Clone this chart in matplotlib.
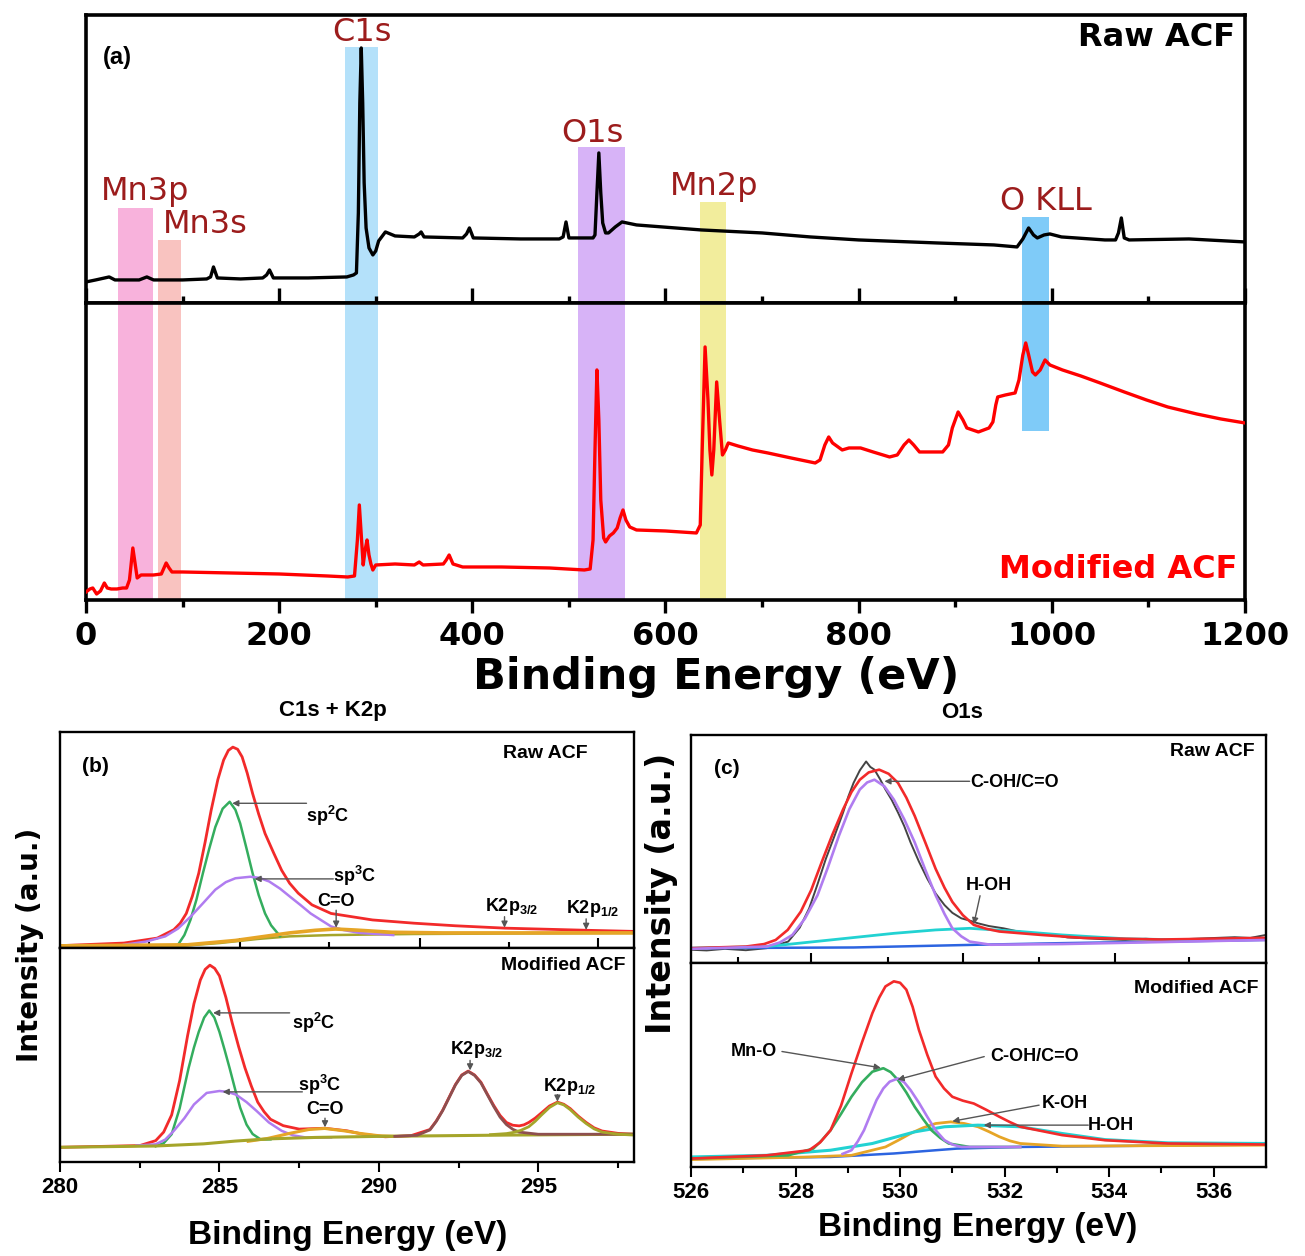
import matplotlib
matplotlib.use("Agg")
import matplotlib.pyplot as plt

plt.rcParams['font.family'] = ['Liberation Sans', 'DejaVu Sans']
plt.rcParams['mathtext.fontset'] = 'custom'
plt.rcParams['mathtext.rm'] = 'Liberation Sans:bold'
plt.rcParams['mathtext.bf'] = 'Liberation Sans:bold'
plt.rcParams['mathtext.it'] = 'Liberation Sans:bold'
plt.rcParams['mathtext.default'] = 'bf'

# ---------------- (a) survey spectra ----------------
raw_survey_eV = [0, 10, 24, 30, 55, 63, 70, 100, 125, 129,
                 132, 136, 160, 183, 187, 190, 194, 230, 270, 277,
                 280, 282, 283.5, 285, 286.5, 288, 290, 293, 297, 300,
                 303, 310, 320, 340, 345, 347, 350, 390, 394, 397,
                 401, 450, 490, 494, 497, 500, 520, 525, 527, 529,
                 531, 533, 535, 538, 541, 548, 555, 570, 637, 700,
                 750, 800, 881, 940, 964, 970, 976, 981, 985, 992,
                 998, 1010, 1055, 1066, 1069, 1072, 1075, 1080, 1142, 1200]
raw_survey_int = [21, 23, 26, 23, 23, 26, 23, 23, 24, 26,
                  36, 25, 24, 25, 28, 33, 25, 25, 26, 28,
                  30, 90, 200, 255, 200, 120, 75, 55, 48, 52,
                  62, 71, 67, 66, 69, 71, 66, 65, 69, 75,
                  65, 64, 64, 66, 81, 65, 65, 65, 68, 110,
                  150, 110, 80, 70, 70, 76, 81, 78, 73, 70,
                  66, 63, 60, 58, 56, 64, 75, 68, 65, 68,
                  69, 66, 63, 63, 70, 85, 65, 63, 64, 61]

mod_survey_eV = [0, 4, 7, 11, 15, 19, 22, 26, 32, 38,
                 42, 45, 48.5, 51, 53, 57, 70, 78, 83, 86,
                 89, 100, 150, 200, 250, 271, 278, 281, 283, 285,
                 287, 289, 291, 293, 295, 297, 300, 320, 340, 345,
                 349, 370, 373, 376, 380, 390, 430, 480, 516, 522,
                 525, 527, 529, 531, 533, 536, 538, 542, 546, 550,
                 553, 556, 559, 563, 570, 600, 632, 636, 638, 641,
                 644, 646, 648, 650, 653, 656, 659, 662, 665, 675,
                 690, 706, 730, 755, 760, 765, 769, 773, 783, 790,
                 802, 815, 832, 840, 847, 852, 857, 863, 887, 893,
                 897, 903, 908, 912, 924, 935, 939, 942, 944, 952,
                 962, 966, 970, 973, 976, 980, 983, 988, 993, 998,
                 1011, 1030, 1050, 1075, 1098, 1120, 1150, 1175, 1200]
mod_survey_int = [8, 11, 12, 6, 9, 17, 12, 11, 11, 12,
                  12, 20, 52, 35, 22, 25, 25, 26, 37, 32,
                  28, 28, 27, 26, 24, 23, 24, 60, 95, 65,
                  35, 50, 60, 45, 36, 30, 35, 36, 35, 38,
                  35, 36, 40, 45, 36, 33, 33, 32, 30, 31,
                  60, 150, 230, 180, 100, 62, 58, 64, 67, 72,
                  82, 90, 80, 73, 70, 69, 67, 75, 150, 253,
                  200, 150, 125, 150, 218, 180, 145, 150, 157, 154,
                  150, 147, 142, 137, 140, 155, 163, 157, 150, 152,
                  152, 148, 143, 145, 155, 160, 155, 148, 148, 155,
                  172, 188, 180, 172, 168, 172, 178, 195, 203, 205,
                  207, 220, 245, 257, 245, 228, 225, 230, 240, 235,
                  230, 224, 217, 208, 200, 193, 186, 181, 177]

band_names = ['Mn3p', 'Mn3s', 'C1s', 'O1s', 'Mn2p', 'O KLL']
band_lo = [33, 75, 268, 509, 636, 969]
band_hi = [69, 98, 302, 558, 663, 997]

# ---------------- (b) C1s + K2p ----------------
b_raw_env_eV = [280.0, 282.0, 283.05, 283.57, 283.77, 283.96, 284.15, 284.35, 284.55, 284.74,
                284.95, 285.13, 285.28, 285.42, 285.57, 285.71, 285.87, 286.04, 286.23, 286.43,
                286.7, 286.95, 287.2, 287.47, 287.9, 288.5, 289.8, 291.1, 292.4, 293.96,
                296.56, 298.0]
b_raw_env = [1.1, 2.3, 4.6, 8.5, 11.5, 16.0, 24.0, 34.6, 49.0, 63.8,
             78.0, 87.0, 91.5, 93.0, 92.0, 88.5, 81.0, 71.5, 62.0, 53.0,
             44.0, 36.0, 30.0, 25.4, 20.0, 16.0, 13.0, 11.5, 10.3, 9.2,
             8.2, 7.7]
b_raw_sp2_eV = [283.7, 283.9, 284.09, 284.28, 284.48, 284.68, 284.87, 285.1, 285.32, 285.5,
                285.65, 285.85, 286.04, 286.23, 286.43, 286.62, 286.9]
b_raw_sp2 = [1.5, 6.0, 13.0, 22.5, 34.6, 46.0, 56.0, 64.5, 67.7, 64.0,
             57.7, 46.0, 34.6, 24.5, 16.0, 10.5, 5.5]
b_raw_sp3_eV = [282.0, 282.7, 283.3, 283.7, 284.1, 284.5, 284.87, 285.2, 285.5, 285.97,
                286.25, 286.56, 286.9, 287.21, 287.55, 287.86, 288.2, 288.5, 288.9, 289.4,
                290.45]
b_raw_sp3 = [1.5, 3.0, 5.4, 9.0, 14.6, 21.0, 27.0, 30.5, 32.3, 33.0,
             32.5, 30.8, 27.5, 23.8, 19.8, 16.0, 12.8, 10.0, 8.3, 7.0,
             6.0]
b_raw_co_eV = [280.0, 284.0, 285.5, 287.2, 288.0, 288.64, 289.3, 290.4, 292.0, 298.0]
b_raw_co = [1.0, 1.5, 3.5, 7.0, 8.2, 8.8, 8.3, 7.3, 7.0, 7.0]
b_raw_bg_eV = [280.0, 283.9, 285.0, 286.2, 287.2, 288.5, 291.1, 298.0]
b_raw_bg = [1.0, 1.1, 2.3, 4.2, 5.4, 6.0, 6.5, 7.0]

b_mod_env_eV = [280.0, 282.5, 283.0, 283.25, 283.5, 283.75, 284.0, 284.2, 284.4, 284.55,
                284.7, 284.85, 285.0, 285.2, 285.4, 285.6, 285.8, 286.0, 286.2, 286.4,
                286.6, 287.0, 287.5, 288.3, 289.0, 289.5, 290.2, 291.0, 291.6, 291.8,
                292.0, 292.2, 292.4, 292.6, 292.8, 293.0, 293.2, 293.4, 293.6, 293.8,
                294.0, 294.2, 294.4, 294.55, 294.7, 294.9, 295.1, 295.35, 295.6, 295.8,
                296.0, 296.25, 296.5, 296.75, 297.0, 297.5, 298.0]
b_mod_env = [6.9, 7.7, 10.0, 14.0, 22.0, 38.0, 59.0, 74.0, 85.0, 90.0,
             92.0, 90.5, 87.0, 77.0, 65.0, 54.0, 44.0, 35.5, 28.0, 23.5,
             20.0, 17.0, 15.4, 15.8, 14.6, 13.0, 11.8, 12.3, 15.2, 19.2,
             24.2, 30.2, 36.2, 40.7, 42.5, 40.7, 37.3, 31.8, 26.5, 21.8,
             18.5, 17.2, 16.9, 17.4, 18.5, 20.5, 23.0, 26.2, 28.0, 27.0,
             25.0, 21.5, 18.5, 16.0, 14.5, 13.4, 13.0]
b_mod_sp2_eV = [283.0, 283.25, 283.5, 283.75, 284.03, 284.2, 284.35, 284.52, 284.68, 284.84,
                285.0, 285.16, 285.32, 285.5, 285.65, 285.85, 286.04, 286.3, 286.6]
b_mod_sp2 = [7.4, 8.8, 13.0, 25.0, 43.8, 53.5, 60.8, 67.5, 70.8, 67.5,
             60.8, 52.5, 43.8, 33.5, 25.4, 17.5, 13.1, 10.5, 10.6]
b_mod_sp3_eV = [282.4, 283.0, 283.3, 283.57, 283.9, 284.2, 284.6, 285.0, 285.25, 285.52,
                285.85, 286.17, 286.55, 286.95, 287.3, 287.7, 288.5]
b_mod_sp3 = [7.7, 8.3, 10.5, 14.6, 20.5, 26.9, 32.3, 33.2, 32.8, 31.5,
             28.0, 23.8, 18.5, 14.6, 12.5, 11.5, 11.5]
b_mod_co_eV = [285.9, 286.5, 287.2, 287.8, 288.3, 288.9, 289.4, 290.0, 290.5]
b_mod_co = [9.7, 11.0, 13.4, 15.2, 15.7, 14.6, 13.4, 12.3, 12.0]
b_mod_k32_eV = [290.5, 291.2, 291.6, 291.8, 292.0, 292.2, 292.4, 292.6, 292.8, 293.0,
                293.2, 293.4, 293.6, 293.8, 294.0, 294.2, 294.4, 295.0, 296.0, 298.0]
b_mod_k32 = [12.0, 12.5, 15.0, 19.0, 24.0, 30.0, 36.0, 40.5, 42.3, 40.5,
             37.0, 31.5, 26.0, 21.0, 17.5, 15.3, 14.0, 13.0, 13.0, 13.0]
b_mod_k12_eV = [293.5, 294.0, 294.2, 294.45, 294.7, 294.9, 295.1, 295.35, 295.6, 295.8,
                296.0, 296.25, 296.5, 296.75, 297.0, 297.5, 298.0]
b_mod_k12 = [12.8, 13.3, 13.8, 14.8, 16.5, 19.0, 22.0, 25.5, 27.7, 26.7,
             24.5, 21.0, 18.0, 15.5, 14.0, 13.0, 12.6]
b_mod_bg_eV = [280.0, 283.0, 284.5, 285.5, 286.5, 288.0, 290.0, 292.0, 294.0, 296.0, 298.0]
b_mod_bg = [6.9, 7.5, 8.5, 9.8, 10.8, 11.5, 12.0, 12.3, 12.6, 12.8, 13.0]

# ---------------- (c) O1s ----------------
c_raw_data_eV = [526.0, 526.3, 526.65, 527.05, 527.45, 527.86, 528.08, 528.26, 528.42, 528.58,
                 528.75, 528.91, 529.01, 529.11, 529.23, 529.35, 529.43, 529.51, 529.62, 529.72,
                 529.84, 529.96, 530.08, 530.2, 530.36, 530.52, 530.68, 530.85, 531.0, 531.17,
                 531.33, 531.49, 531.7, 531.98, 532.2, 532.46, 532.7, 532.95, 533.2, 533.51,
                 533.9, 534.32, 534.7, 535.13, 535.5, 535.94, 536.4, 536.7, 537.0]
c_raw_data = [5.8, 5.5, 6.2, 5.6, 6.5, 9.4, 15.5, 23.9, 34.5, 45.7,
              56.0, 66.0, 73.0, 79.0, 84.5, 88.4, 86.0, 84.8, 80.5, 76.1,
              71.5, 66.0, 60.0, 52.9, 44.5, 37.0, 30.5, 25.4, 22.0, 19.6,
              18.6, 17.4, 16.2, 15.2, 14.1, 13.0, 12.9, 12.3, 11.2, 10.9,
              10.4, 10.1, 10.6, 10.1, 10.5, 10.9, 11.3, 11.0, 12.3]
c_raw_env_eV = [526.0, 527.05, 527.4, 527.62, 527.85, 528.1, 528.3, 528.5, 528.7, 528.91,
                529.07, 529.23, 529.4, 529.6, 529.78, 529.96, 530.12, 530.28, 530.48, 530.68,
                530.85, 531.0, 531.2, 531.41, 531.65, 531.9, 532.7, 533.5, 535.0, 537.0]
c_raw_env = [6.5, 7.2, 8.3, 10.1, 14.5, 22.5, 32.0, 44.2, 56.0, 67.4,
             75.0, 80.4, 83.6, 84.8, 83.0, 79.0, 72.5, 64.5, 53.0, 41.3,
             33.0, 26.8, 21.0, 16.7, 15.0, 13.8, 12.3, 11.0, 10.3, 11.0]
c_raw_coh_eV = [526.0, 527.45, 527.7, 527.94, 528.18, 528.42, 528.62, 528.83, 529.03, 529.23,
                529.37, 529.51, 529.7, 529.88, 530.08, 530.28, 530.48, 530.68, 530.85, 531.0,
                531.17, 531.33, 531.73, 533.1, 537.0]
c_raw_coh = [6.2, 7.2, 9.0, 12.3, 19.5, 29.7, 42.0, 55.8, 67.5, 76.1,
             79.2, 80.4, 77.5, 71.7, 63.0, 52.9, 41.0, 29.7, 21.5, 15.2,
             11.7, 9.4, 8.0, 8.3, 10.1]
c_raw_hoh_eV = [526.0, 527.45, 528.67, 529.88, 530.68, 531.33, 532.3, 533.1, 534.32, 535.53, 537.0]
c_raw_hoh = [6.5, 7.2, 10.1, 13.0, 14.5, 15.2, 13.8, 12.3, 10.6, 10.1, 10.6]
c_raw_bg_eV = [526.0, 529.11, 531.49, 533.1, 537.0]
c_raw_bg = [6.5, 6.8, 8.0, 8.7, 10.1]

c_mod_env_eV = [526.0, 527.45, 528.26, 528.47, 528.67, 528.87, 529.07, 529.27, 529.47, 529.6,
                529.72, 529.88, 530.0, 530.12, 530.24, 530.36, 530.52, 530.68, 530.84, 531.0,
                531.2, 531.41, 531.65, 531.9, 532.1, 532.3, 533.1, 533.92, 535.13, 537.0]
c_mod_env = [4.1, 5.7, 8.2, 12.0, 18.0, 30.0, 45.9, 61.0, 75.4, 83.0,
             88.5, 91.0, 90.3, 86.9, 78.5, 67.2, 55.0, 44.3, 38.5, 34.4,
             32.5, 31.1, 28.0, 24.6, 22.0, 19.7, 15.6, 13.1, 11.5, 11.0]
c_mod_mno_eV = [526.0, 527.86, 528.34, 528.5, 528.67, 528.87, 529.07, 529.27, 529.47, 529.68,
                529.82, 529.96, 530.12, 530.28, 530.44, 530.6, 530.77, 530.93, 531.33, 532.3]
c_mod_mno = [4.1, 5.7, 9.0, 13.0, 18.0, 26.0, 34.4, 41.5, 46.7, 48.4,
             46.5, 42.6, 36.5, 29.5, 23.5, 18.0, 14.2, 11.5, 9.8, 9.8]
c_mod_coh_eV = [528.9, 529.07, 529.19, 529.31, 529.43, 529.55, 529.68, 529.8, 529.96, 530.08,
                530.2, 530.36, 530.52, 530.68, 530.85, 531.0, 531.17, 532.3]
c_mod_coh = [6.4, 8.2, 12.5, 18.0, 25.5, 32.8, 38.5, 41.8, 43.4, 41.5,
             37.7, 31.5, 24.6, 18.0, 13.1, 11.0, 9.8, 9.8]
c_mod_koh_eV = [526.0, 528.26, 529.07, 529.72, 529.96, 530.2, 530.44, 530.68, 530.97, 531.23,
                531.49, 531.7, 531.9, 532.1, 532.3, 533.1, 537.0]
c_mod_koh = [3.6, 4.9, 5.7, 9.8, 13.0, 16.4, 19.2, 21.3, 22.1, 21.3,
             19.7, 17.3, 14.8, 12.8, 11.5, 10.2, 10.7]
c_mod_hoh_eV = [526.0, 527.45, 528.67, 529.47, 530.28, 530.85, 531.49, 532.3, 533.1, 533.92, 535.13, 537.0]
c_mod_hoh = [4.9, 5.7, 8.2, 11.5, 17.2, 19.7, 20.5, 19.7, 16.4, 13.4, 11.8, 11.5]
c_mod_bg_eV = [526.0, 528.67, 529.88, 531.09, 532.3, 537.0]
c_mod_bg = [4.1, 4.9, 6.6, 9.0, 9.8, 11.0]

# colours
RED = '#f22a2a'
GREEN = '#34ad5e'
PURPLE = '#b07cf0'
ORANGE = '#e6a526'
CYAN = '#22d2d2'
BLUE = '#2c64e0'
BROWN = '#8e4f4f'
OLIVE = '#a5a52a'
LABEL_RED = '#9c1c1c'

fig = plt.figure(figsize=(13.05, 12.56), dpi=100)

# ---------- panel (a) ----------
ax_raw = fig.add_axes([0.0659, 0.7588, 0.8881, 0.2293])
ax_mod = fig.add_axes([0.0659, 0.5223, 0.8881, 0.2365])

band_colors = ['#f8b2dc', '#f9c3c0', '#b4e1fa', '#d7b3f7', '#f2ed9c', '#7fcbf8']
band_top = [0.33, 0.22, 0.89, 0.54, 0.35, 0.30]   # fraction of raw panel height
band_mod = [(0, 1), (0, 1), (0, 1), (0, 1), (0, 1), (0.57, 1)]
band_lbl_xy = [(61, 111), (124, 78), (286, 270), (524, 169), (650, 116), (994, 101)]

for i, name in enumerate(band_names):
    ax_raw.axvspan(band_lo[i], band_hi[i], ymin=0, ymax=band_top[i], color=band_colors[i], lw=0, zorder=0)
    ax_mod.axvspan(band_lo[i], band_hi[i], ymin=band_mod[i][0], ymax=band_mod[i][1],
                   color=band_colors[i], lw=0, zorder=0)
    ax_raw.text(band_lbl_xy[i][0], band_lbl_xy[i][1], name, color=LABEL_RED, fontsize=23,
                family='DejaVu Sans', ha='center', va='center')

ax_raw.plot(raw_survey_eV, raw_survey_int, color='black', lw=2.4, zorder=3)
ax_mod.plot(mod_survey_eV, mod_survey_int, color='red', lw=2.4, zorder=3)

ax_raw.set_ylim(0, 288)
ax_mod.set_ylim(0, 297)
for ax in (ax_raw, ax_mod):
    ax.set_xlim(0, 1200)
    ax.set_yticks([])
    ax.set_xticks(range(0, 1201, 200))
    ax.set_xticks(range(100, 1200, 200), minor=True)
    for s in ax.spines.values():
        s.set_linewidth(2.6)
ax_raw.tick_params(axis='x', which='major', direction='in', length=11, width=2.4, labelbottom=False)
ax_raw.tick_params(axis='x', which='minor', direction='in', length=5, width=2.4)
ax_mod.tick_params(axis='x', which='major', direction='out', length=9, width=2.4, labelsize=23, pad=6)
ax_mod.tick_params(axis='x', which='minor', direction='out', length=5, width=2.4)
for lab in ax_mod.get_xticklabels():
    lab.set_family('DejaVu Sans')
    lab.set_fontweight('bold')

ax_raw.text(33, 245, '(a)', fontsize=17, fontweight='bold', ha='center', va='center')
ax_raw.text(1190, 265, 'Raw ACF', fontsize=23, fontweight='bold', family='DejaVu Sans',
            ha='right', va='center')
ax_mod.text(1192, 30, 'Modified ACF', fontsize=23, fontweight='bold', family='DejaVu Sans',
            color='red', ha='right', va='center')
fig.text(0.549, 0.461, 'Binding Energy (eV)', fontsize=31, fontweight='bold',
         family='DejaVu Sans', ha='center', va='center')


def arrow(ax, tail, head):
    ax.annotate('', xy=head, xytext=tail,
                arrowprops=dict(arrowstyle='-|>', color='#555555', lw=1.0,
                                mutation_scale=9, shrinkA=0, shrinkB=0))


def style(ax, xlim, major, minor, direction, labels):
    ax.set_xlim(*xlim)
    ax.set_ylim(0, 100)
    ax.set_yticks([])
    ax.set_xticks(major)
    ax.set_xticks(minor, minor=True)
    ax.tick_params(axis='x', which='major', direction=direction, length=7, width=1.5,
                   labelbottom=labels, labelsize=16, pad=4)
    ax.tick_params(axis='x', which='minor', direction=direction, length=4, width=1.5)
    for s in ax.spines.values():
        s.set_linewidth(1.7)
    if labels:
        for lab in ax.get_xticklabels():
            lab.set_fontweight('bold')


LBL = dict(fontsize=13, fontweight='bold')

# ---------- panel (b) ----------
bu = fig.add_axes([0.046, 0.2452, 0.4398, 0.172])
bl = fig.add_axes([0.046, 0.0748, 0.4398, 0.1704])

bu.plot(b_raw_bg_eV, b_raw_bg, color=OLIVE, lw=1.8)
bu.plot(b_raw_env_eV, b_raw_env, color=RED, lw=2.0)
bu.plot(b_raw_sp2_eV, b_raw_sp2, color=GREEN, lw=1.8)
bu.plot(b_raw_sp3_eV, b_raw_sp3, color=PURPLE, lw=1.8)
bu.plot(b_raw_co_eV, b_raw_co, color=ORANGE, lw=2.6)
style(bu, (280, 298), [285.65, 291.3, 296.88], [282.79, 288.44, 294.09], 'in', False)

arrow(bu, (287.73, 67), (285.4, 67))
bu.text(287.7, 61, 'sp$^2$C', ha='left', va='center', **LBL)
arrow(bu, (288.57, 32), (286.1, 32))
bu.text(288.55, 33.5, 'sp$^3$C', ha='left', va='center', **LBL)
arrow(bu, (288.66, 17.5), (288.66, 9.4))
bu.text(288.66, 21.5, 'C=O', ha='center', va='center', **LBL)
arrow(bu, (293.94, 14.5), (293.94, 9.4))
bu.text(294.16, 19.0, 'K2p$_{3/2}$', ha='center', va='center', **LBL)
arrow(bu, (296.5, 13.5), (296.5, 8.4))
bu.text(296.69, 18.2, 'K2p$_{1/2}$', ha='center', va='center', **LBL)
bu.text(296.56, 90, 'Raw ACF', ha='right', va='center', fontsize=14, fontweight='bold')
bu.text(281.1, 84, '(b)', ha='center', va='center', fontsize=15, fontweight='bold')

bl.plot(b_mod_env_eV, b_mod_env, color=RED, lw=2.0)
bl.plot(b_mod_sp2_eV, b_mod_sp2, color=GREEN, lw=1.8)
bl.plot(b_mod_sp3_eV, b_mod_sp3, color=PURPLE, lw=1.8)
bl.plot(b_mod_co_eV, b_mod_co, color=ORANGE, lw=2.2)
bl.plot(b_mod_bg_eV, b_mod_bg, color=OLIVE, lw=2.2)
bl.plot(b_mod_k32_eV, b_mod_k32, color=BROWN, lw=2.0)
bl.plot(b_mod_k12_eV, b_mod_k12, color=OLIVE, lw=2.0)
style(bl, (280, 298), [280, 285, 290, 295], [282.5, 287.5, 292.5, 297.5], 'out', True)

arrow(bl, (287.2, 69.7), (284.8, 69.7))
bl.text(287.27, 65, 'sp$^2$C', ha='left', va='center', **LBL)
arrow(bl, (287.6, 32.8), (285.1, 32.8))
bl.text(287.45, 36, 'sp$^3$C', ha='left', va='center', **LBL)
arrow(bl, (288.31, 20.5), (288.31, 16.2))
bl.text(288.31, 24.5, 'C=O', ha='center', va='center', **LBL)
arrow(bl, (292.86, 47.5), (292.86, 42.8))
bl.text(293.05, 52.5, 'K2p$_{3/2}$', ha='center', va='center', **LBL)
arrow(bl, (295.6, 31.5), (295.6, 28.2))
bl.text(295.97, 35.5, 'K2p$_{1/2}$', ha='center', va='center', **LBL)
bl.text(297.73, 92, 'Modified ACF', ha='right', va='center', fontsize=14, fontweight='bold')

fig.text(0.255, 0.434, 'C1s + K2p', fontsize=16, fontweight='bold', ha='center', va='center')
fig.text(0.266, 0.0167, 'Binding Energy (eV)', fontsize=24, fontweight='bold', ha='center', va='center')
fig.text(0.023, 0.2476, 'Intensity (a.u.)', fontsize=20, fontweight='bold', family='DejaVu Sans',
         rotation=90, ha='center', va='center')

# ---------- panel (c) ----------
cu = fig.add_axes([0.5295, 0.2333, 0.4406, 0.1815])
cl = fig.add_axes([0.5295, 0.0709, 0.4406, 0.1624])

cu.plot(c_raw_data_eV, c_raw_data, color='#444444', lw=1.4)
cu.plot(c_raw_bg_eV, c_raw_bg, color=BLUE, lw=1.8)
cu.plot(c_raw_hoh_eV, c_raw_hoh, color=CYAN, lw=2.0)
cu.plot(c_raw_env_eV, c_raw_env, color=RED, lw=1.9)
cu.plot(c_raw_coh_eV, c_raw_coh, color=PURPLE, lw=1.9)
style(cu, (526, 537), [528.3, 531.21, 534.12], [526.89, 529.76, 532.66, 535.53], 'in', False)

arrow(cu, (531.33, 79.7), (529.7, 79.7))
cu.text(531.35, 79.0, 'C-OH/C=O', ha='left', va='center', **LBL)
arrow(cu, (531.53, 29.5), (531.41, 17.0))
cu.text(531.7, 34, 'H-OH', ha='center', va='center', **LBL)
cu.text(536.78, 92.8, 'Raw ACF', ha='right', va='center', fontsize=14, fontweight='bold')
cu.text(526.69, 85.5, '(c)', ha='center', va='center', fontsize=15, fontweight='bold')

cl.plot(c_mod_bg_eV, c_mod_bg, color=BLUE, lw=1.8)
cl.plot(c_mod_koh_eV, c_mod_koh, color=ORANGE, lw=2.0)
cl.plot(c_mod_hoh_eV, c_mod_hoh, color=CYAN, lw=2.2)
cl.plot(c_mod_mno_eV, c_mod_mno, color=GREEN, lw=1.9)
cl.plot(c_mod_coh_eV, c_mod_coh, color=PURPLE, lw=1.9)
cl.plot(c_mod_env_eV, c_mod_env, color=RED, lw=1.9)
style(cl, (526, 537), list(range(526, 537, 2)), list(range(527, 537, 2)), 'out', True)

arrow(cl, (527.74, 56.6), (529.63, 48.6))
cl.text(527.21, 56.6, 'Mn-O', ha='center', va='center', **LBL)
arrow(cl, (531.61, 54.1), (529.95, 42.8))
cl.text(532.58, 54.1, 'C-OH/C=O', ha='center', va='center', **LBL)
arrow(cl, (532.66, 30.3), (531.0, 22.4))
cl.text(533.15, 31.1, 'K-OH', ha='center', va='center', **LBL)
arrow(cl, (533.6, 20.5), (531.6, 20.5))
cl.text(534.04, 20.5, 'H-OH', ha='center', va='center', **LBL)
cl.text(536.86, 87.7, 'Modified ACF', ha='right', va='center', fontsize=14, fontweight='bold')

fig.text(0.737, 0.433, 'O1s', fontsize=16, fontweight='bold', ha='center', va='center')
fig.text(0.749, 0.0223, 'Binding Energy (eV)', fontsize=24, fontweight='bold', ha='center', va='center')
fig.text(0.507, 0.289, 'Intensity (a.u.)', fontsize=24, fontweight='bold', family='DejaVu Sans',
         rotation=90, ha='center', va='center')

fig.savefig('out.png', dpi=100)
